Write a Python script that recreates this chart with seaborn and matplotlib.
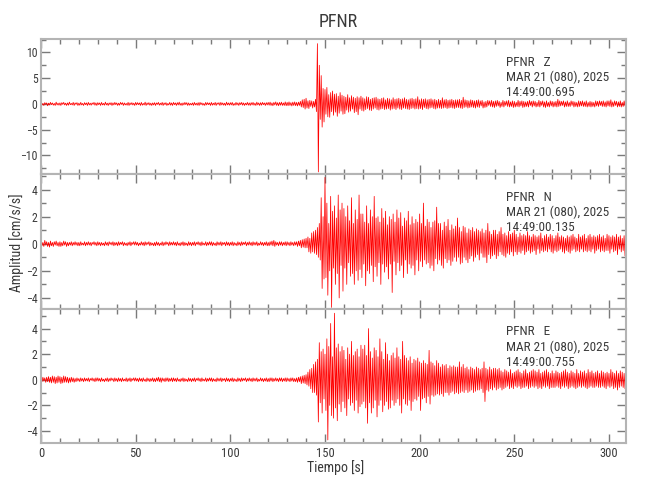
import numpy as np
import pandas as pd
import matplotlib
matplotlib.use("Agg")
import matplotlib.pyplot as plt
import seaborn as sns
from matplotlib.ticker import MultipleLocator

# ---------------- data (peak values, 0.5 s steps) ----------------
station = "PFNR"
components = ["Z", "N", "E"]
start_times = ["14:49:00.695", "14:49:00.135", "14:49:00.755"]
date_label = "MAR 21 (080), 2025"
dt = 0.5

# 0 - 139.5 s
z_pre = [.3,-.2,.1,-.3,.25,-.1,.2,-.35,.15,-.2,.3,-.15,.2,-.25,.1,-.3,.35,-.2,.15,-.25,
         .2,-.3,.25,-.1,.3,-.2,.15,-.3,.2,-.25,.35,-.15,.1,-.2,.3,-.3,.2,-.1,.25,-.3,
         .15,-.25,.3,-.2,.1,-.3,.25,-.15,.2,-.3,.3,-.2,.15,-.25,.2,-.1,.3,-.25,.2,-.3,
         .25,-.15,.2,-.3,.3,-.2,.1,-.25,.35,-.2,.15,-.3,.2,-.15,.25,-.3,.2,-.2,.3,-.15,
         .2,-.3,.15,-.25,.3,-.1,.25,-.3,.2,-.2,.1,-.25,.3,-.3,.2,-.15,.25,-.2,.15,-.3,
         .3,-.2,.25,-.15,.2,-.3,.3,-.25,.1,-.2,.35,-.3,.2,-.15,.25,-.25,.15,-.3,.2,-.2,
         .25,-.3,.2,-.1,.3,-.25,.15,-.2,.3,-.3,.2,-.15,.25,-.3,.1,-.2,.3,-.25,.2,-.3,
         .3,-.15,.2,-.3,.25,-.2,.35,-.25,.15,-.3,.2,-.2,.3,-.15,.25,-.3,.2,-.25,.1,-.2,
         .2,-.3,.3,-.2,.15,-.25,.25,-.3,.3,-.15,.2,-.25,.1,-.3,.3,-.2,.25,-.15,.2,-.3,
         .3,-.25,.15,-.2,.3,-.3,.2,-.1,.25,-.3,.3,-.2,.2,-.25,.15,-.3,.35,-.2,.2,-.25,
         .25,-.2,.3,-.3,.1,-.25,.3,-.2,.2,-.3,.25,-.15,.3,-.25,.2,-.3,.15,-.2,.3,-.25,
         .2,-.3,.25,-.2,.3,-.25,.15,-.3,.35,-.2,.2,-.3,.25,-.25,.3,-.15,.2,-.3,.25,-.2,
         .3,-.25,.35,-.3,.2,-.35,.3,-.2,.4,-.3,.25,-.35,.3,-.25,.35,-.3,.2,-.3,.4,-.35,
         .3,-.35,.4,-.3,.25,-.4,.35,-.3,.4,-.35,.3,-.4,.35,-.3,.5,-.6,.8,-.7,.9,-1.0]
# 140 - 309.5 s
z_event = [1.1,-.8,.6,-.9,.7,-.5,.6,-.8,.5,-.6,.9,-1.5,11.7,-13.2,7.5,-3.0,5.5,-4.5,3.0,-3.5,
           2.8,-2.0,3.2,-2.5,1.8,-2.6,2.2,-1.5,2.5,-2.2,1.9,-1.6,2.0,-2.4,1.5,-1.8,2.2,-1.4,1.7,-2.0,
           1.5,-1.9,1.3,-1.2,1.8,-1.6,1.2,-1.4,1.6,-1.0,1.3,-1.7,1.1,-1.5,1.4,-2.1,1.2,-1.0,1.5,-1.3,
           1.2,-1.4,1.0,-1.1,1.4,-.9,1.3,-1.2,.9,-1.3,1.1,-1.0,1.2,-.8,1.3,-1.1,1.0,-1.2,.9,-1.0,
           1.1,-.9,1.2,-1.1,.8,-1.0,1.1,-.9,1.0,-1.2,.8,-1.0,1.2,-.9,.9,-1.1,1.0,-.8,1.1,-1.0,
           .9,-1.1,1.0,-.8,1.2,-.9,.9,-1.0,.8,-1.1,1.0,-.9,1.1,-.8,.9,-1.0,1.0,-.9,1.4,-1.0,
           .8,-.9,1.0,-1.1,.9,-.7,1.0,-.9,.8,-1.0,.9,-.8,1.0,-.7,.8,-.9,.9,-1.0,.7,-.8,
           .9,-.8,.7,-.9,1.2,-.8,.8,-.7,.9,-.9,.7,-.8,.8,-.7,.9,-.8,.7,-.9,.8,-.7,
           .8,-.7,.9,-.8,.7,-.9,1.3,-.7,.8,-.6,.7,-.8,.6,-.7,.8,-.6,.7,-.7,.6,-.8,
           .7,-.6,.8,-.7,.6,-.4,.7,-.8,.4,-.7,.5,-.6,.7,-.3,.6,-.5,.7,-.6,.5,-.7,
           .6,-.5,.7,-.4,.5,-.7,.3,-.5,.7,-.6,.5,-.3,.6,-.5,.7,-.6,.4,-.5,.6,-.7,
           .5,-.6,.3,-.5,.7,-.6,.5,-.4,.6,-.7,.5,-.6,.4,-.5,.5,-.6,.7,-.3,.5,-.6,
           .6,-.4,.5,-.6,.3,-.5,.7,-.6,.5,-.3,.6,-.6,.4,-.7,.6,-.5,.3,-.6,.6,-.4,
           .5,-.6,.4,-.5,.5,-.6,.9,-.5,.6,-.4,.5,-.3,.6,-.6,.4,-.5,.6,-.5,.3,-.5,
           .6,-.3,.5,-.6,.4,-.5,.3,-.6,.6,-.5,.5,-.4,.6,-.5,.4,-.5,.6,-.6,.3,-.5,
           .5,-.6,.4,-.5,.3,-.6,.6,-.4,.5,-.5,.6,-.3,.5,-.5,.6,-.5,.4,-.6,.6,-.4,
           .6,-.5,.8,-.6,.4,-.5,.6,-.3,.5,-.6,.4,-.5,.6,-.6,.3,-.5,.6,-.4,.5,-.6]

n_pre = [.2,-.15,.1,-.2,.25,-.1,.15,-.2,.1,-.25,.2,-.15,.1,-.2,.15,-.1,.2,-.15,.1,-.2,
         .15,-.2,.1,-.15,.2,-.1,.15,-.2,.1,-.15,.1,-.1,.15,-.15,.1,-.1,.15,-.1,.1,-.15,
         .1,-.15,.15,-.1,.05,-.1,.15,-.15,.1,-.1,.15,-.1,.1,-.15,.1,-.05,.15,-.1,.1,-.15,
         .15,-.1,.1,-.15,.1,-.1,.05,-.15,.15,-.1,.1,-.15,.15,-.05,.1,-.1,.15,-.15,.1,-.1,
         .1,-.15,.15,-.1,.1,-.05,.15,-.15,.1,-.1,.05,-.15,.1,-.1,.15,-.15,.1,-.05,.15,-.1,
         .15,-.1,.1,-.15,.05,-.1,.15,-.1,.1,-.15,.15,-.1,.1,-.05,.15,-.15,.1,-.1,.05,-.15,
         .1,-.15,.15,-.1,.1,-.15,.05,-.1,.15,-.15,.1,-.1,.15,-.05,.1,-.15,.15,-.1,.1,-.1,
         .15,-.1,.1,-.15,.15,-.1,.05,-.15,.1,-.1,.15,-.15,.1,-.1,.05,-.15,.15,-.1,.1,-.15,
         .1,-.1,.15,-.15,.1,-.05,.15,-.1,.1,-.15,.15,-.1,.05,-.1,.15,-.15,.1,-.1,.15,-.1,
         .15,-.15,.1,-.1,.05,-.15,.15,-.1,.1,-.1,.15,-.15,.1,-.05,.1,-.15,.15,-.1,.1,-.15,
         .1,-.1,.15,-.15,.1,-.1,.05,-.15,.15,-.1,.1,-.15,.15,-.1,.1,-.05,.15,-.15,.1,-.1,
         .15,-.1,.1,-.15,.15,-.1,.1,-.1,.15,-.15,.05,-.1,.15,-.1,.1,-.15,.1,-.1,.15,-.15,
         .1,-.15,.15,-.1,.2,-.15,.25,-.2,.15,-.1,.1,-.15,.15,-.1,.15,-.15,.1,-.1,.15,-.15,
         .15,-.1,.1,-.15,.15,-.1,.1,-.15,.15,-.1,.15,-.2,.2,-.15,.25,-.3,.3,-.25,.35,-.3]
n_event = [.4,-.3,.5,-.6,.4,-.7,.8,-.6,.9,-.7,1.0,-.8,1.2,-1.0,1.5,-1.2,3.4,-3.3,2.0,-2.6,
           4.9,-2.5,3.0,-3.8,1.5,-2.0,3.5,-4.7,2.4,-1.8,2.8,-3.0,1.9,-2.2,3.6,-4.0,2.5,-1.6,3.0,-3.5,
           2.6,-1.8,2.0,-3.0,2.8,-1.4,1.7,-2.4,3.4,-2.2,1.5,-3.0,2.5,-2.0,1.8,-2.7,3.6,-1.9,2.2,-2.5,
           2.2,-1.5,1.6,-3.1,2.8,-2.0,1.5,-2.2,2.5,-1.6,2.0,-2.8,3.5,-1.7,1.9,-2.4,2.0,-1.4,1.6,-3.0,
           2.6,-1.5,1.9,-2.1,2.4,-1.7,1.4,-2.6,2.0,-1.5,1.8,-3.6,2.2,-1.3,1.6,-2.3,2.5,-1.4,1.9,-2.0,
           2.3,-1.6,1.3,-2.5,1.9,-1.2,1.7,-2.2,2.4,-1.5,1.4,-1.8,2.0,-1.6,1.5,-2.3,1.8,-1.2,1.6,-2.0,
           2.2,-1.3,1.5,-1.7,3.0,-1.2,1.3,-1.5,1.8,-1.4,1.6,-1.8,1.2,-1.6,1.6,-2.0,1.7,-1.1,2.7,-1.5,
           1.5,-1.2,1.5,-1.6,1.0,-1.8,1.6,-1.1,1.3,-1.4,1.8,-1.2,1.0,-1.6,1.4,-1.3,1.1,-1.0,1.3,-1.3,
           1.9,-1.0,1.2,-1.5,.9,-1.4,1.3,-1.0,1.2,-1.2,.8,-1.4,1.1,-1.1,1.0,-.9,1.2,-1.3,.9,-1.0,
           1.1,-.8,1.0,-1.2,.9,-.7,1.1,-1.0,.8,-1.0,1.0,-1.4,1.5,-.8,.9,-1.1,.7,-.9,1.0,-.8,
           1.0,-1.1,.7,-.9,.9,-.6,1.2,-.8,.7,-.9,.8,-1.0,.6,-.7,.9,-.8,.7,-.6,.8,-.9,
           1.0,-.6,.7,-.8,.5,-.6,.8,-.7,.6,-.5,.7,-.8,.6,-.6,.9,-.5,.6,-.7,.5,-.6,
           .7,-.5,.6,-.8,.5,-.4,.6,-.7,.8,-.5,.4,-.6,.6,-.5,.7,-.6,.5,-.4,.7,-.6,
           .6,-.7,.4,-.5,.6,-.6,.8,-.5,.5,-.4,.6,-.6,.5,-.7,.4,-.5,.6,-.6,.5,-.7,
           .6,-.5,.7,-.4,.5,-.6,.4,-.5,.7,-.6,.5,-.4,.6,-.6,.7,-.5,.4,-.6,.6,-.5,
           .7,-.6,.5,-.4,.6,-.7,.5,-.5,.6,-.4,.7,-.6,.5,-.5,.6,-.6,.4,-.5,.7,-.5,
           .6,-.7,.5,-.4,.6,-.6,.5,-.5,.7,-.8,.5,-.4,.6,-.6,.4,-.5,.6,-.9,.5,-.7]

e_pre = [.15,-.15,.2,-.1,.15,-.2,.2,-.15,.25,-.2,.2,-.25,.3,-.2,.25,-.3,.2,-.25,.3,-.2,
         .25,-.3,.2,-.25,.3,-.2,.25,-.2,.2,-.25,.15,-.2,.2,-.15,.15,-.2,.1,-.15,.15,-.1,
         .1,-.15,.15,-.1,.1,-.15,.15,-.1,.1,-.1,.15,-.15,.1,-.05,.15,-.1,.1,-.15,.15,-.1,
         .15,-.1,.1,-.15,.15,-.1,.05,-.15,.1,-.1,.15,-.15,.1,-.1,.15,-.05,.1,-.15,.15,-.1,
         .1,-.15,.15,-.1,.1,-.15,.15,-.1,.05,-.1,.15,-.15,.1,-.1,.15,-.15,.1,-.05,.15,-.1,
         .15,-.1,.1,-.15,.15,-.1,.1,-.15,.15,-.1,.05,-.15,.15,-.1,.1,-.15,.1,-.1,.15,-.15,
         .1,-.15,.15,-.1,.2,-.15,.15,-.2,.15,-.1,.1,-.15,.15,-.1,.15,-.15,.1,-.1,.15,-.15,
         .15,-.1,.1,-.15,.15,-.1,.05,-.15,.1,-.1,.15,-.15,.1,-.1,.05,-.15,.15,-.1,.1,-.15,
         .1,-.1,.15,-.15,.1,-.05,.15,-.1,.1,-.15,.15,-.1,.05,-.1,.15,-.15,.1,-.1,.15,-.1,
         .15,-.15,.1,-.1,.05,-.15,.15,-.1,.1,-.1,.15,-.15,.1,-.05,.1,-.15,.15,-.1,.1,-.15,
         .1,-.1,.15,-.15,.1,-.1,.05,-.15,.15,-.1,.1,-.15,.15,-.1,.1,-.05,.15,-.15,.1,-.1,
         .15,-.1,.1,-.15,.15,-.1,.1,-.1,.15,-.15,.05,-.1,.15,-.1,.1,-.15,.1,-.1,.15,-.15,
         .1,-.15,.15,-.1,.15,-.15,.1,-.1,.15,-.1,.1,-.15,.15,-.1,.15,-.15,.1,-.1,.15,-.15,
         .15,-.1,.1,-.15,.15,-.1,.15,-.15,.1,-.15,.15,-.2,.2,-.15,.25,-.3,.3,-.25,.35,-.3]
e_event = [.4,-.4,.6,-.5,.8,-.7,.9,-1.0,1.2,-1.0,1.4,-1.2,1.6,-3.3,2.9,-1.8,2.2,-2.6,2.4,-1.5,
           2.0,-2.4,3.2,-4.7,2.6,-2.0,4.4,-2.8,1.8,-3.0,5.2,-2.2,2.5,-3.2,2.8,-1.9,2.2,-2.5,2.6,-1.7,
           2.3,-2.2,1.6,-2.8,2.5,-1.5,2.0,-2.0,3.0,-1.8,1.9,-2.4,2.2,-1.6,2.4,-2.6,1.8,-2.1,2.7,-1.9,
           2.4,-1.7,2.7,-2.2,1.9,-3.4,4.0,-1.8,2.2,-2.6,1.7,-2.2,2.5,-1.6,2.3,-2.9,1.8,-2.0,3.2,-1.6,
           2.2,-2.5,1.6,-2.0,2.9,-1.7,2.0,-2.3,1.5,-2.2,1.9,-1.6,2.1,-2.0,1.7,-1.8,2.5,-1.5,1.8,-2.0,
           1.6,-2.6,3.0,-1.5,1.9,-1.9,1.7,-2.0,1.5,-1.6,1.8,-2.4,1.3,-1.7,1.6,-1.5,1.5,-1.6,1.7,-1.3,
           1.4,-2.4,1.3,-1.5,1.5,-1.4,1.3,-1.8,1.2,-1.3,2.3,-1.9,1.4,-1.2,1.3,-1.3,1.1,-1.2,1.5,-1.1,
           1.3,-1.2,1.0,-1.1,1.2,-1.3,1.1,-1.0,1.2,-1.0,.9,-1.2,1.1,-1.0,1.0,-.9,1.1,-1.1,1.0,-1.0,
           1.0,-1.1,1.4,-1.0,1.0,-.9,1.2,-1.0,.9,-.8,1.0,-1.0,.8,-.9,1.0,-.8,.9,-1.0,.8,-.9,
           1.0,-.8,.9,-.8,.8,-.7,.9,-1.0,1.4,-1.7,.9,-.8,.8,-.9,1.0,-.7,.8,-.8,.9,-.6,
           .9,-.8,.8,-.7,.9,-.6,.7,-.8,.6,-.7,.8,-.6,.7,-.5,.6,-.7,.8,-.6,.5,-.7,
           .6,-.5,.7,-.6,.8,-.5,.6,-.7,.5,-.6,.7,-.6,.8,-.5,.5,-.7,.6,-.6,.7,-.5,
           .8,-.6,.7,-.5,.6,-.7,.8,-.6,.5,-.7,.6,-.5,.7,-.6,.8,-.5,.6,-.7,.5,-.6,
           .7,-.6,.5,-.6,.7,-.5,.6,-.6,.5,-.7,.6,-.5,.7,-.6,.8,-.5,.6,-.7,.5,-.6,
           .7,-.5,.6,-.6,.5,-.7,.8,-.6,.5,-.5,.7,-.6,.6,-.5,.7,-.6,.5,-.7,.8,-.6,
           .6,-.5,.7,-.6,.5,-.6,.6,-.5,.7,-.6,.5,-.6,.7,-.5,.6,-.6,.5,-.7,.6,-.5,
           .5,-.6,.8,-.5,.6,-.7,.5,-.6,.7,-.8,.5,-.6,.7,-.5,.6,-.6,.5,-.7,.6,-.6]

traces = [z_pre + z_event, n_pre + n_event, e_pre + e_event]
y_limits = [(-13.6, 12.6), (-4.78, 5.15), (-4.94, 5.57)]
y_major = [5, 2, 2]
y_minor = [2.5, 1, 1]
x_max = 309

# ---------------- styling ----------------
sns.set_theme(style="white")
plt.rcParams["font.family"] = ["Roboto Condensed", "DejaVu Sans"]
plt.rcParams["font.stretch"] = "condensed"
plt.rcParams["axes.unicode_minus"] = True

txt_col = "#3a3a3a"
spine_col = "#b4b4b4"
tick_col = "#7a7a7a"

fig = plt.figure(figsize=(6.5, 5), dpi=100)
W_px, H_px = 650, 500
left_px, right_px = 41, 626
bounds = [(39, 174), (174, 308.5), (308.5, 443)]

for i, (top, bot) in enumerate(bounds):
    ax = fig.add_axes([left_px / W_px, 1 - bot / H_px,
                       (right_px - left_px) / W_px, (bot - top) / H_px])
    vals = traces[i]
    df = pd.DataFrame({"t": np.arange(len(vals)) * dt, "amp": vals})
    sns.lineplot(data=df, x="t", y="amp", ax=ax, color="#ff0000",
                 linewidth=0.55, estimator=None, sort=False, legend=False)
    ax.set_xlim(0, x_max)
    ax.set_ylim(*y_limits[i])
    ax.set_xlabel("")
    ax.set_ylabel("")
    ax.xaxis.set_major_locator(MultipleLocator(50))
    ax.xaxis.set_minor_locator(MultipleLocator(10))
    ax.yaxis.set_major_locator(MultipleLocator(y_major[i]))
    ax.yaxis.set_minor_locator(MultipleLocator(y_minor[i]))
    ax.tick_params(which="both", direction="in", top=True, right=True,
                   bottom=True, left=True, color=tick_col, labelcolor=txt_col,
                   width=1.0)
    ax.tick_params(axis="y", labelsize=8.5, pad=2.5)
    ax.tick_params(axis="x", labelsize=9, pad=3)
    ax.tick_params(which="major", length=6.5)
    ax.tick_params(which="minor", length=3.6)
    if i < 2:
        ax.tick_params(axis="x", labelbottom=False)
    for sp in ax.spines.values():
        sp.set_color(spine_col)
        sp.set_linewidth(1.5)
        sp.set_visible(True)
    ax.text(0.795, 0.875,
            f"{station}   {components[i]}\n{date_label}\n{start_times[i]}",
            transform=ax.transAxes, ha="left", va="top", fontsize=9.5,
            color=txt_col, linespacing=1.2)

fig.text(338 / W_px, 1 - 22 / H_px, station, ha="center", va="center",
         fontsize=13, color=txt_col)
fig.text(336 / W_px, 1 - 468 / H_px, "Tiempo [s]", ha="center", va="center",
         fontsize=10, color=txt_col)
fig.text(17 / W_px, 1 - 243 / H_px, "Amplitud [cm/s/s]", ha="center",
         va="center", rotation=90, fontsize=10, color=txt_col)

fig.savefig("out.png", dpi=100)
